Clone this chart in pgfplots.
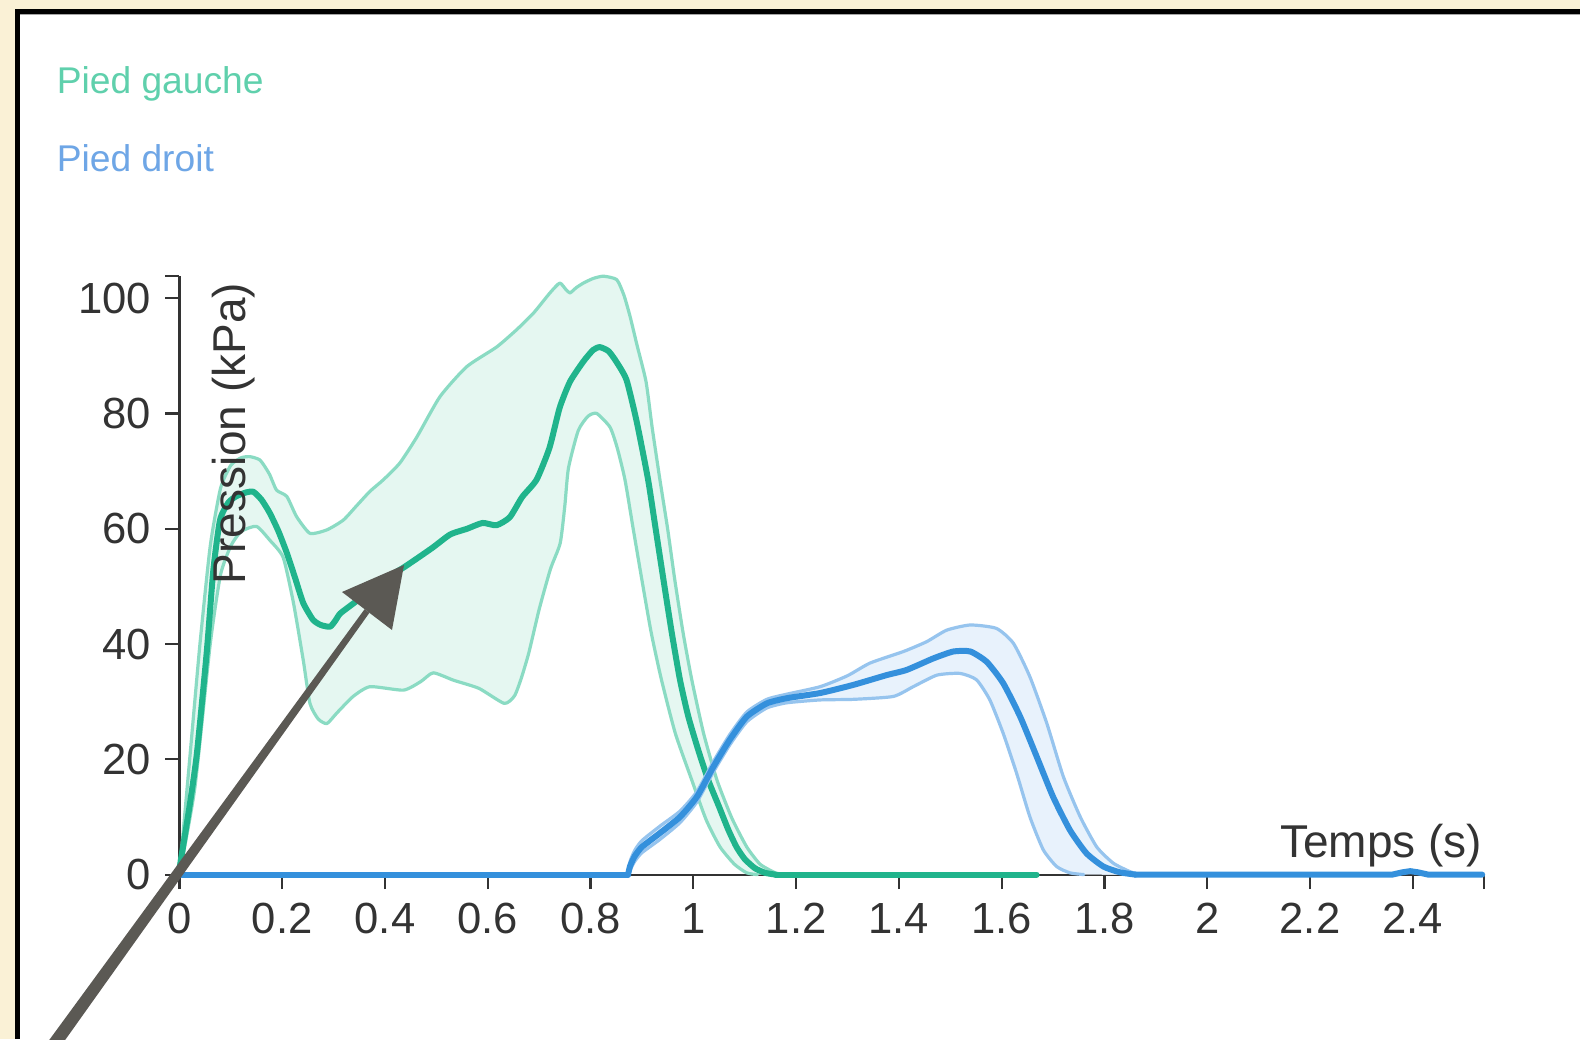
\documentclass[border=0pt]{standalone}
\usepackage{fontspec}
\setmainfont{Liberation Sans}
\usepackage{pgfplots}
\usepackage{pgfplotstable}
\pgfplotsset{compat=1.18}

\definecolor{cream}{RGB}{250,241,214}
\definecolor{gmain}{RGB}{32,180,140}
\definecolor{gedge}{RGB}{138,219,195}
\definecolor{gfill}{RGB}{229,247,241}
\definecolor{bmain}{RGB}{52,144,220}
\definecolor{bedge}{RGB}{150,196,238}
\definecolor{bfill}{RGB}{230,241,252}
\definecolor{gtext}{RGB}{95,208,172}
\definecolor{btext}{RGB}{110,166,230}
\definecolor{axcol}{RGB}{51,51,51}
\definecolor{arrowcol}{RGB}{91,89,84}

% Pied gauche: mean (curved part; flat zero part added separately)
\pgfplotstableread{
t v
0 1
0.005 3.7
0.02 12
0.034 21
0.053 38.4
0.066 52.8
0.079 61.5
0.095 64.5
0.11 65.6
0.13 66.3
0.144 66.4
0.16 65
0.176 62.7
0.193 59.5
0.209 55.8
0.225 51.5
0.241 47.1
0.26 44.2
0.275 43.3
0.293 43
0.303 44
0.313 45.3
0.338 47
0.36 48.5
0.38 50
0.4 51.3
0.435 53.2
0.465 55
0.494 56.8
0.527 59
0.56 60
0.59 61
0.617 60.6
0.643 62
0.667 65.5
0.695 68.5
0.72 74
0.74 81
0.76 85.5
0.786 89
0.805 91
0.818 91.5
0.835 90.8
0.85 89
0.87 85.8
0.89 78.5
0.912 68.5
0.927 59.8
0.942 51.1
0.958 42
0.974 33.8
0.99 27.5
1.01 21.5
1.029 16.4
1.05 11.8
1.068 7.8
1.084 4.8
1.1 2.7
1.12 1.1
1.14 0.3
1.16 0
}\gm

% Pied gauche: upper bound
\pgfplotstableread{
t v
0 0
0.02 20
0.04 40
0.06 57
0.08 67
0.1 71
0.12 72.3
0.137 72.5
0.157 71.9
0.175 69.5
0.189 66.7
0.209 65.6
0.228 62.1
0.254 59.2
0.287 59.8
0.319 61.5
0.345 64
0.371 66.5
0.397 68.5
0.429 71.4
0.462 75.9
0.507 82.9
0.559 88.1
0.617 91.5
0.656 94.5
0.689 97.4
0.721 100.9
0.74 102.6
0.752 101.5
0.76 100.9
0.772 101.8
0.786 102.6
0.805 103.4
0.825 103.8
0.851 103.2
0.865 100.5
0.877 96.8
0.89 92
0.908 85.5
0.92 77.5
0.935 68.5
0.95 60
0.964 51.1
0.98 42
0.997 33.8
1.02 24.5
1.046 16.4
1.075 9.8
1.104 4.8
1.13 1.8
1.16 0.3
1.18 0
}\gu

% Pied gauche: lower bound
\pgfplotstableread{
t v
0 0
0.03 15
0.06 40
0.08 52
0.1 57
0.12 59.5
0.15 60.4
0.176 58
0.202 55
0.222 47.1
0.241 37.2
0.254 29.7
0.27 27
0.287 26.2
0.306 28
0.338 30.9
0.371 32.6
0.436 32
0.47 33.5
0.494 35
0.534 33.7
0.583 32.3
0.632 29.7
0.652 31
0.665 34
0.68 38.5
0.7 46
0.722 53
0.741 57.5
0.75 64
0.757 70.5
0.776 77
0.795 79.5
0.812 80
0.838 77.6
0.852 74
0.867 68.5
0.883 60
0.9 51.1
0.918 42
0.938 33.8
0.965 24.5
0.997 16.4
1.025 9.5
1.052 4.8
1.08 1.8
1.104 0.3
1.125 0
}\gl

% Pied gauche: band outline (upper forward, lower backward)
\pgfplotstableread{
t v
0 0
0.02 20
0.04 40
0.06 57
0.08 67
0.1 71
0.12 72.3
0.137 72.5
0.157 71.9
0.175 69.5
0.189 66.7
0.209 65.6
0.228 62.1
0.254 59.2
0.287 59.8
0.319 61.5
0.345 64
0.371 66.5
0.397 68.5
0.429 71.4
0.462 75.9
0.507 82.9
0.559 88.1
0.617 91.5
0.656 94.5
0.689 97.4
0.721 100.9
0.74 102.6
0.752 101.5
0.76 100.9
0.772 101.8
0.786 102.6
0.805 103.4
0.825 103.8
0.851 103.2
0.865 100.5
0.877 96.8
0.89 92
0.908 85.5
0.92 77.5
0.935 68.5
0.95 60
0.964 51.1
0.98 42
0.997 33.8
1.02 24.5
1.046 16.4
1.075 9.8
1.104 4.8
1.13 1.8
1.16 0.3
1.18 0
1.125 0
1.104 0.3
1.08 1.8
1.052 4.8
1.025 9.5
0.997 16.4
0.965 24.5
0.938 33.8
0.918 42
0.9 51.1
0.883 60
0.867 68.5
0.852 74
0.838 77.6
0.812 80
0.795 79.5
0.776 77
0.757 70.5
0.75 64
0.741 57.5
0.722 53
0.7 46
0.68 38.5
0.665 34
0.652 31
0.632 29.7
0.583 32.3
0.534 33.7
0.494 35
0.47 33.5
0.436 32
0.371 32.6
0.338 30.9
0.306 28
0.287 26.2
0.27 27
0.254 29.7
0.241 37.2
0.222 47.1
0.202 55
0.176 58
0.15 60.4
0.12 59.5
0.1 57
0.08 52
0.06 40
0.03 15
0 0
}\gband

% Pied droit: mean (curved part; flat zero parts added separately)
\pgfplotstableread{
t v
0.873 0
0.877 1.5
0.886 3.2
0.9 4.8
0.935 7.2
0.974 10
1.007 13.5
1.039 18.7
1.071 23.4
1.104 27.4
1.143 29.7
1.182 30.6
1.247 31.5
1.311 32.9
1.376 34.6
1.415 35.5
1.467 37.5
1.506 38.7
1.539 38.7
1.571 36.9
1.603 33.2
1.636 27.4
1.668 20.5
1.7 13.5
1.733 7.7
1.765 3.7
1.798 1.4
1.83 0.4
1.86 0
}\bm

% Pied droit: upper bound
\pgfplotstableread{
t v
0.873 0
0.877 2.3
0.886 4.2
0.9 5.9
0.935 8.4
0.974 11
1.007 14.4
1.039 19.6
1.071 24.3
1.104 28.2
1.143 30.4
1.182 31.3
1.247 32.6
1.3 34.5
1.344 36.7
1.409 38.7
1.454 40.4
1.493 42.4
1.539 43.3
1.59 42.7
1.623 40.1
1.655 34.3
1.688 26.2
1.72 17
1.753 10
1.785 4.8
1.817 2
1.85 0.5
1.87 0
}\bu

% Pied droit: lower bound
\pgfplotstableread{
t v
0.873 0
0.877 0.8
0.886 2.3
0.9 3.8
0.935 6.1
0.974 9
1.007 12.6
1.039 17.8
1.071 22.5
1.104 26.5
1.143 28.9
1.182 29.8
1.247 30.3
1.311 30.4
1.389 30.9
1.428 32.6
1.474 34.6
1.519 34.9
1.551 33.8
1.577 30.3
1.603 24.5
1.629 17.6
1.655 10
1.681 4.3
1.707 1.4
1.733 0.3
1.76 0
}\bl

% Pied droit: band outline (upper forward, lower backward)
\pgfplotstableread{
t v
0.873 0
0.877 2.3
0.886 4.2
0.9 5.9
0.935 8.4
0.974 11
1.007 14.4
1.039 19.6
1.071 24.3
1.104 28.2
1.143 30.4
1.182 31.3
1.247 32.6
1.3 34.5
1.344 36.7
1.409 38.7
1.454 40.4
1.493 42.4
1.539 43.3
1.59 42.7
1.623 40.1
1.655 34.3
1.688 26.2
1.72 17
1.753 10
1.785 4.8
1.817 2
1.85 0.5
1.87 0
1.76 0
1.733 0.3
1.707 1.4
1.681 4.3
1.655 10
1.629 17.6
1.603 24.5
1.577 30.3
1.551 33.8
1.519 34.9
1.474 34.6
1.428 32.6
1.389 30.9
1.311 30.4
1.247 30.3
1.182 29.8
1.143 28.9
1.104 26.5
1.071 22.5
1.039 17.8
1.007 12.6
0.974 9
0.935 6.1
0.9 3.8
0.886 2.3
0.877 0.8
0.873 0
}\bband

\tikzset{px/.style={x=0.25pt,y=-0.25pt,shift={(0pt,259.75pt)}}}

\begin{document}
\begin{tikzpicture}
\begin{scope}[px]
  \fill[cream] (0,0) rectangle (1580,1039);
  \fill[white] (15,9) rectangle (1580,1039);
  \fill[black] (15,9) rectangle (1580,14);
  \fill[black] (15,9) rectangle (20,1039);
  \fill[black!35] (20,14) rectangle (1580,15);
  \node[anchor=base west, inner sep=0pt, text=gtext, font=\fontsize{9.3}{11}\selectfont] at (56,94) {Pied gauche};
  \node[anchor=base west, inner sep=0pt, text=btext, font=\fontsize{9.3}{11}\selectfont] at (56,172) {Pied droit};
\end{scope}

\begin{axis}[
  at={(44.85pt,41.1pt)}, anchor=south west,
  scale only axis, width=326.2pt, height=149.6pt,
  xmin=0, xmax=2.539, ymin=0, ymax=103.8,
  axis x line*=bottom, axis y line*=left,
  axis line style={draw=axcol, line width=0.55pt, -},
  tick style={draw=axcol, line width=0.55pt},
  tick align=outside, major tick length=3.6pt,
  xtick={0,0.2,0.4,0.6,0.8,1,1.2,1.4,1.6,1.8,2,2.2,2.4},
  xticklabels={0,0.2,0.4,0.6,0.8,1,1.2,1.4,1.6,1.8,2,2.2,2.4},
  ytick={0,20,40,60,80,100},
  extra x ticks={2.539}, extra x tick labels={},
  extra y ticks={103.8}, extra y tick labels={},
  extra tick style={grid=none},
  ticklabel style={font=\fontsize{10.9}{12}\selectfont, text=axcol},
  /pgf/number format/assume math mode=true,
  clip=false,
  no markers,
  every axis plot/.append style={line join=round, line cap=round},
  sm/.style={smooth, tension=0.35},
]
  \addplot[sm, fill=gfill, draw=none] table[x=t,y=v] {\gband};
  \addplot[sm, draw=gedge, line width=0.8pt] table[x=t,y=v] {\gu};
  \addplot[sm, draw=gedge, line width=0.8pt] table[x=t,y=v] {\gl};
  \addplot[sm, draw=gmain, line width=1.5pt] table[x=t,y=v] {\gm};
  \addplot[draw=gmain, line width=1.5pt] coordinates {(1.16,0) (1.668,0)};

  \addplot[sm, fill=bfill, draw=none, fill opacity=0.9] table[x=t,y=v] {\bband};
  \addplot[sm, draw=bedge, line width=0.8pt] table[x=t,y=v] {\bu};
  \addplot[sm, draw=bedge, line width=0.8pt] table[x=t,y=v] {\bl};
  \addplot[draw=bmain, line width=1.5pt] coordinates {(0,0) (0.873,0)};
  \addplot[sm, draw=bmain, line width=1.5pt] table[x=t,y=v] {\bm};
  \addplot[draw=bmain, line width=1.5pt] coordinates {(1.86,0) (2.36,0) (2.38,0.4) (2.395,0.6) (2.41,0.4) (2.43,0) (2.535,0)};
\end{axis}

\begin{scope}[px]
  \node[anchor=base east, inner sep=0pt, text=axcol, font=\fontsize{11.5}{13}\selectfont] at (1483,857) {Temps (s)};
  \node[rotate=90, anchor=base east, inner sep=0pt, text=axcol, font=\fontsize{11.5}{13}\selectfont] at (245,282) {Pression (kPa)};
  \fill[arrowcol] (44.7,1046.2) -- (55.3,1053.8) -- (369.4,612.8) -- (364.6,609.2) -- cycle;
  \fill[arrowcol] (342,592) -- (404,565) -- (392,630) -- cycle;
\end{scope}
\pgfresetboundingbox
\path[use as bounding box] (0,0) rectangle (395pt,259.75pt);
\end{tikzpicture}
\end{document}
